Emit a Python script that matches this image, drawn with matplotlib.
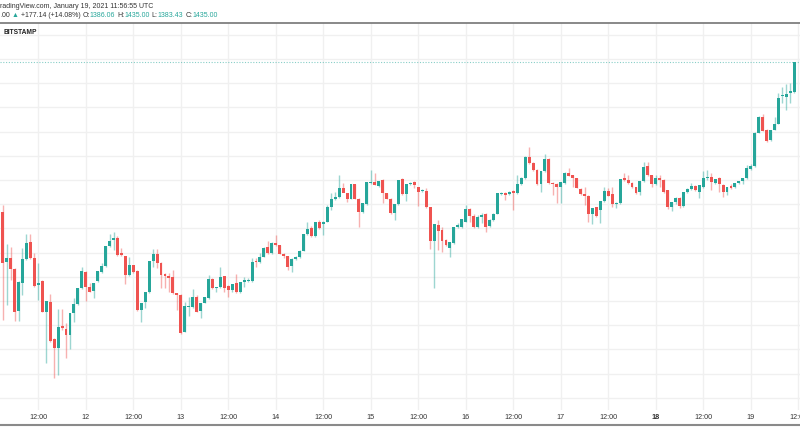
import numpy as np
import pandas as pd
import matplotlib
matplotlib.use('Agg')
import matplotlib.pyplot as plt
from matplotlib.lines import Line2D

# ETH/USD hourly candles, Bitstamp, 11 Jan 03:00 -> 19 Jan 11:00 (UTC)
start = '2021-01-11 03:00'

opens = [1187, 1104, 1111, 1093, 1023, 1070, 1109, 1137, 1111, 1066,
         1073, 1022, 1038, 977, 962, 999, 994, 984, 1020, 1035,
         1061, 1088, 1063, 1056, 1073, 1088, 1098, 1131, 1141, 1144,
         1119, 1114, 1083, 1099, 1090, 1025, 1038, 1055, 1106, 1118,
         1103, 1085, 1081, 1080, 1053, 1050, 989, 1030, 1030, 1047,
         1023, 1037, 1045, 1076, 1061, 1063, 1081, 1065, 1058, 1070,
         1055, 1071, 1073, 1073, 1106, 1104, 1113, 1129, 1119, 1136,
         1132, 1118, 1114, 1098, 1109, 1113, 1123, 1151, 1161, 1147,
         1171, 1167, 1171, 1195, 1208, 1212, 1227, 1218, 1209, 1233,
         1209, 1187, 1200, 1235, 1237, 1230, 1240, 1218, 1209, 1185,
         1200, 1242, 1217, 1233, 1237, 1228, 1222, 1222, 1195, 1139,
         1166, 1157, 1141, 1128, 1136, 1162, 1162, 1171, 1192, 1180,
         1162, 1179, 1184, 1164, 1174, 1184, 1217, 1218, 1217, 1222,
         1218, 1233, 1243, 1278, 1268, 1256, 1233, 1255, 1275, 1235,
         1233, 1228, 1235, 1252, 1248, 1243, 1225, 1217, 1214, 1184,
         1195, 1190, 1205, 1222, 1217, 1200, 1202, 1243, 1240, 1235,
         1228, 1220, 1238, 1263, 1248, 1233, 1243, 1240, 1223, 1195,
         1204, 1210, 1197, 1220, 1225, 1230, 1220, 1228, 1243, 1245,
         1235, 1243, 1232, 1220, 1230, 1228, 1235, 1238, 1243, 1258,
         1263, 1318, 1344, 1323, 1306, 1323, 1333, 1379, 1377, 1384,
         1386.06]

highs = [1199, 1134, 1129, 1095, 1073, 1128, 1151, 1151, 1119, 1103,
         1075, 1040, 1051, 978, 1027, 1027, 1004, 1020, 1045, 1061,
         1096, 1089, 1070, 1070, 1090, 1103, 1131, 1151, 1154, 1147,
         1128, 1115, 1113, 1100, 1091, 1037, 1055, 1106, 1126, 1126,
         1104, 1086, 1086, 1091, 1054, 1051, 1038, 1047, 1060, 1050,
         1037, 1047, 1083, 1078, 1063, 1096, 1082, 1066, 1068, 1085,
         1071, 1080, 1078, 1111, 1111, 1119, 1129, 1139, 1137, 1149,
         1133, 1119, 1115, 1111, 1114, 1124, 1151, 1171, 1164, 1171,
         1174, 1172, 1199, 1218, 1220, 1248, 1235, 1219, 1233, 1234,
         1210, 1202, 1237, 1256, 1252, 1238, 1241, 1219, 1210, 1200,
         1240, 1243, 1233, 1236, 1238, 1229, 1225, 1227, 1196, 1167,
         1174, 1162, 1142, 1138, 1162, 1169, 1175, 1199, 1193, 1184,
         1182, 1185, 1185, 1175, 1185, 1219, 1220, 1220, 1222, 1223,
         1248, 1245, 1279, 1294, 1270, 1258, 1255, 1283, 1276, 1237,
         1235, 1237, 1253, 1260, 1249, 1244, 1226, 1228, 1215, 1194,
         1196, 1205, 1228, 1227, 1228, 1203, 1242, 1252, 1248, 1236,
         1229, 1238, 1270, 1270, 1249, 1248, 1248, 1241, 1224, 1204,
         1212, 1212, 1220, 1226, 1235, 1232, 1232, 1255, 1256, 1252,
         1242, 1245, 1233, 1228, 1233, 1235, 1238, 1243, 1265, 1266,
         1319, 1345, 1349, 1324, 1323, 1344, 1384, 1394, 1399, 1400,
         1435.00]

lows = [1008, 1033, 1075, 1007, 1007, 1050, 1108, 1110, 1063, 1042,
        1021, 937, 973, 913, 918, 992, 946, 961, 1005, 1033,
        1060, 1040, 1055, 1045, 1072, 1087, 1097, 1130, 1124, 1115,
        1115, 1068, 1082, 1087, 1024, 1005, 1028, 1054, 1096, 1094,
        1061, 1061, 1055, 1052, 1025, 985, 988, 1015, 1029, 1021,
        1012, 1036, 1044, 1060, 1055, 1062, 1055, 1047, 1055, 1053,
        1053, 1063, 1071, 1072, 1096, 1102, 1112, 1118, 1118, 1131,
        1117, 1111, 1091, 1088, 1108, 1111, 1122, 1149, 1146, 1146,
        1159, 1149, 1170, 1190, 1207, 1211, 1223, 1204, 1208, 1208,
        1162, 1186, 1199, 1234, 1231, 1228, 1202, 1208, 1184, 1174,
        1199, 1216, 1205, 1232, 1227, 1197, 1220, 1194, 1126, 1061,
        1124, 1121, 1131, 1113, 1135, 1161, 1161, 1170, 1170, 1161,
        1161, 1169, 1154, 1163, 1172, 1183, 1215, 1207, 1215, 1190,
        1217, 1232, 1242, 1267, 1255, 1232, 1220, 1254, 1234, 1215,
        1202, 1202, 1234, 1246, 1228, 1226, 1216, 1199, 1170, 1167,
        1179, 1169, 1204, 1213, 1195, 1194, 1201, 1239, 1234, 1227,
        1217, 1215, 1237, 1247, 1228, 1232, 1228, 1219, 1192, 1189,
        1200, 1194, 1195, 1218, 1223, 1222, 1210, 1227, 1240, 1223,
        1233, 1220, 1212, 1215, 1225, 1227, 1233, 1234, 1242, 1257,
        1262, 1317, 1321, 1303, 1305, 1322, 1332, 1367, 1356, 1367,
        1383.43]

closes = [1103, 1111, 1093, 1022, 1071, 1109, 1136, 1111, 1065, 1070,
          1022, 1040, 974, 962, 997, 995, 984, 1020, 1035, 1061,
          1090, 1063, 1055, 1070, 1090, 1098, 1131, 1139, 1144, 1116,
          1116, 1083, 1099, 1088, 1025, 1037, 1055, 1106, 1118, 1103,
          1083, 1081, 1078, 1053, 1050, 987, 1032, 1032, 1047, 1022,
          1037, 1047, 1076, 1061, 1063, 1080, 1061, 1058, 1068, 1055,
          1071, 1075, 1075, 1104, 1104, 1113, 1128, 1119, 1136, 1132,
          1118, 1114, 1096, 1109, 1113, 1123, 1151, 1159, 1147, 1171,
          1161, 1171, 1195, 1209, 1212, 1227, 1218, 1209, 1233, 1209,
          1187, 1202, 1237, 1237, 1232, 1238, 1218, 1209, 1185, 1200,
          1240, 1217, 1233, 1235, 1232, 1220, 1223, 1195, 1139, 1167,
          1156, 1139, 1132, 1137, 1162, 1166, 1175, 1192, 1180, 1162,
          1179, 1182, 1162, 1174, 1184, 1218, 1218, 1215, 1220, 1218,
          1233, 1243, 1278, 1268, 1256, 1233, 1255, 1275, 1235, 1233,
          1228, 1237, 1252, 1247, 1243, 1227, 1217, 1214, 1184, 1194,
          1180, 1205, 1222, 1214, 1200, 1202, 1242, 1240, 1235, 1228,
          1218, 1238, 1261, 1248, 1233, 1243, 1240, 1220, 1195, 1204,
          1210, 1197, 1220, 1225, 1230, 1223, 1232, 1243, 1245, 1237,
          1242, 1233, 1220, 1228, 1227, 1235, 1238, 1243, 1260, 1263,
          1318, 1344, 1321, 1304, 1323, 1333, 1376, 1380, 1382, 1387,
          1435.00]

UP = '#26a69a'
DOWN = '#ef5350'
TXT = '#333333'
FONT = ['Liberation Sans', 'DejaVu Sans']

o = np.array(opens, float)
h = np.array(highs, float)
l = np.array(lows, float)
c = np.array(closes, float)
times = pd.date_range(start, periods=len(c), freq='h')
x = np.arange(len(c))
cols = np.where(c >= o, UP, DOWN)

W, H = 800, 445
fig = plt.figure(figsize=(W / 100, H / 100), dpi=100)
ax = fig.add_axes([0, 35 / H, 1, 387 / H])

ax.vlines(x, l, h, colors=cols, linewidth=1, alpha=0.45)
ax.bar(x, np.maximum(np.abs(c - o), 1.2), bottom=np.minimum(o, c),
       width=0.74, color=cols, linewidth=0)
ax.axhline(c[-1], color=UP, ls=(0, (1, 1.5)), lw=0.8, alpha=0.55)

ax.set_xlim(-0.68, 201.44)
ax.set_ylim(859.8, 1499.5)

# time axis: every 12 hours
ticks = pd.date_range('2021-01-11 12:00', '2021-01-19 12:00', freq='12h')
tpos = (ticks - times[0]) / pd.Timedelta(hours=1)
tlab = ['12:00' if t.hour == 12 else str(t.day) for t in ticks]
ax.set_xticks(tpos)
ax.set_xticklabels(tlab, fontsize=5.2, color=TXT, family=FONT)
for lab in ax.get_xticklabels():
    if lab.get_text() == '18':
        lab.set_fontweight('bold')
ax.set_yticks(np.arange(880, 1500, 40))
ax.tick_params(length=0, labelleft=False, pad=3)
ax.grid(True, color='#f0f0f0', lw=1)
ax.set_axisbelow(True)
for s in ax.spines.values():
    s.set_visible(False)

fig.add_artist(Line2D([0, 1], [1 - 23 / H] * 2, color='#7f7f7f', lw=1.3))
fig.add_artist(Line2D([0, 1], [1 - 425 / H] * 2, color='#8a8a8a', lw=1.5))

fig.text(4 / W, 1 - 33 / H, 'BITSTAMP', fontsize=4.8, weight='bold',
         color='#222222', va='center', family=FONT)
fig.text(0, 1 - 6 / H, 'radingView.com, January 19, 2021 11:56:55 UTC',
         fontsize=5.0, color=TXT, va='center', family=FONT)

pieces = [('.00', TXT), (' ', None), ('▲', UP), (' ', None),
          ('+177.14 (+14.08%)', TXT), (' ', None),
          ('O:', TXT), ('1386.06', UP), (' ', None),
          ('H:', TXT), ('1435.00', UP), (' ', None),
          ('L:', TXT), ('1383.43', UP), (' ', None),
          ('C:', TXT), ('1435.00', UP)]
renderer = fig.canvas.get_renderer()
xp = 0.0
for s, col in pieces:
    if col is None:
        xp += 2.0
        continue
    t = fig.text(xp / W, 1 - 15.3 / H, s, fontsize=5.0, color=col,
                 va='center', family=FONT)
    xp += t.get_window_extent(renderer).width

fig.savefig('out.png', dpi=100)
